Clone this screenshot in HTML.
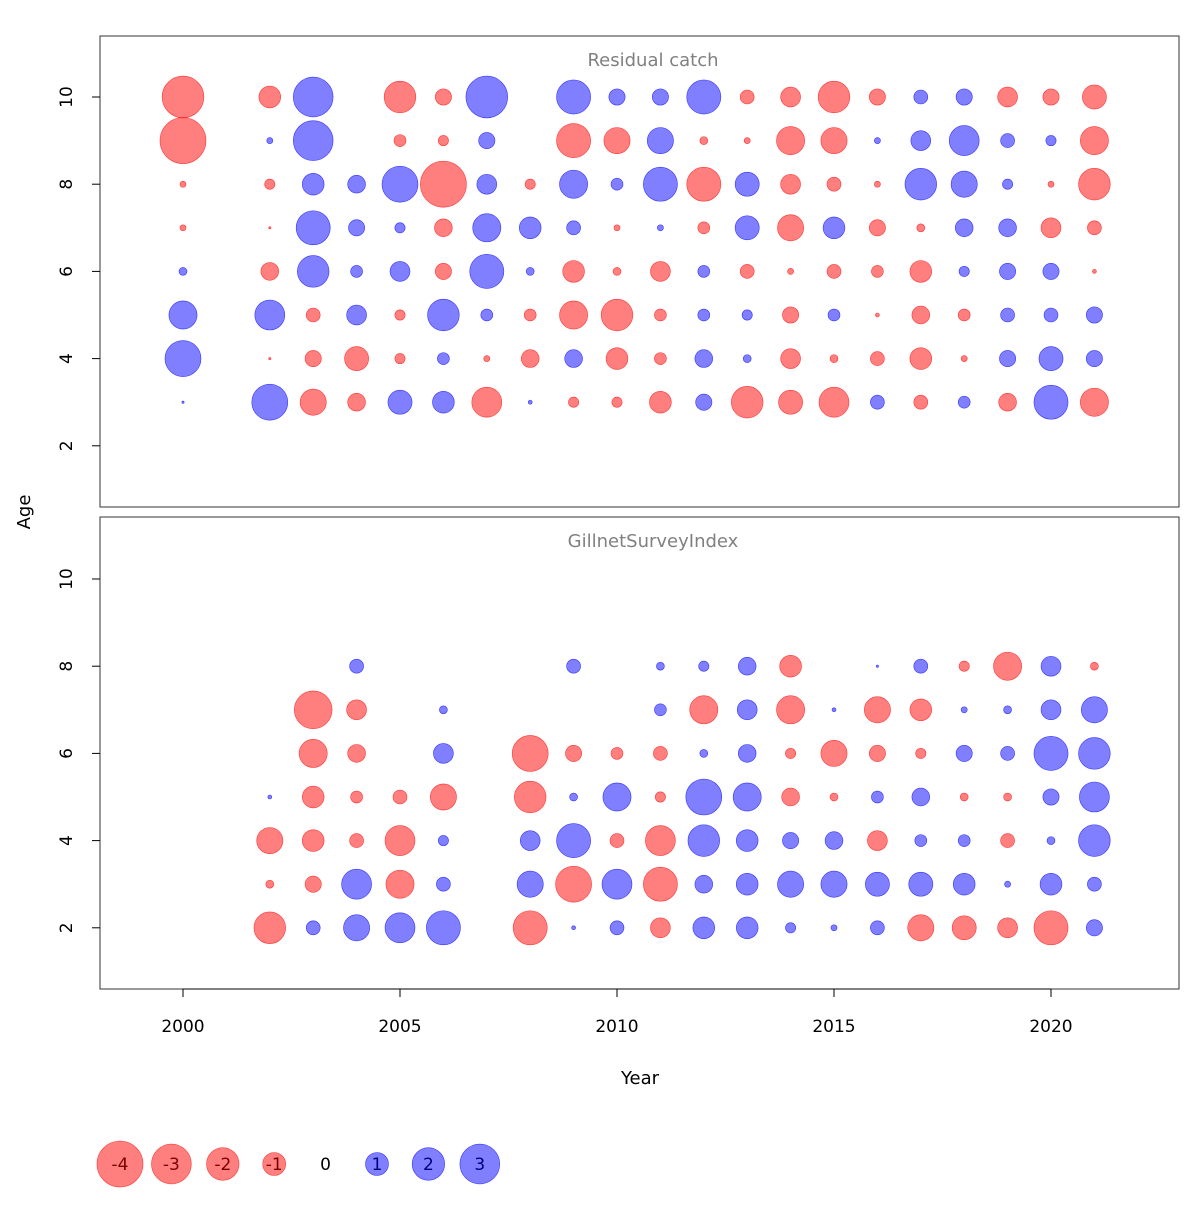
<!DOCTYPE html>
<html><head><meta charset="utf-8"><style>
body{margin:0;background:#fff}
svg text{font-family:"DejaVu Sans","Liberation Sans",sans-serif}
</style></head><body>
<svg id="chart" width="1200" height="1200">
<rect width="1200" height="1200" fill="#fff"/>
</svg>
<script>
const years = [2000,2002,2003,2004,2005,2006,2007,2008,2009,2010,2011,2012,2013,2014,2015,2016,2017,2018,2019,2020,2021];
// Residual catch, ages 3..10 per year
const topAges = [3,4,5,6,7,8,9,10];
const topValues = [
[0.01,2.45,1.5,0.12,-0.07,-0.07,-4,-3.3],
[2.45,-0.01,1.7,-0.6,-0.01,-0.2,0.07,-0.9],
[-1.3,-0.5,-0.37,1.9,2.2,0.9,3,3],
[-0.6,-1.1,0.75,0.27,0.5,0.6,null,null],
[1.1,-0.2,-0.2,0.75,0.2,2.45,-0.27,-1.9],
[0.9,0.27,1.9,-0.5,-0.6,-4,-0.2,-0.5],
[-1.7,-0.07,0.27,2.2,1.5,0.75,0.5,3.3],
[0.03,-0.6,-0.27,0.12,0.9,-0.2,null,null],
[-0.2,0.6,-1.5,-0.9,0.37,1.5,-2.2,2.2],
[-0.2,-0.9,-1.9,-0.12,-0.07,0.27,-1.3,0.5],
[-0.9,-0.27,-0.27,-0.75,0.07,2.2,1.3,0.5],
[0.5,0.6,0.27,0.27,-0.27,-2.2,-0.12,2.2],
[-1.9,0.12,0.2,-0.37,1.1,1.1,-0.07,-0.37],
[-1.1,-0.75,-0.5,-0.07,-1.3,-0.75,-1.5,-0.75],
[-1.7,-0.12,0.27,-0.37,0.9,-0.37,-1.3,-1.9],
[0.37,-0.37,-0.03,-0.27,-0.5,-0.07,0.07,-0.5],
[-0.37,-0.9,-0.6,-0.9,-0.12,1.9,0.75,0.37],
[0.27,-0.07,-0.27,0.2,0.6,1.3,1.7,0.5],
[-0.6,0.5,0.37,0.5,0.6,0.2,0.37,-0.75],
[2.2,1.1,0.37,0.5,-0.75,-0.07,0.2,-0.5],
[-1.5,0.5,0.5,-0.03,-0.37,-1.9,-1.5,-1.1]
];
// GillnetSurveyIndex, ages 2..8 per year
const botAges = [2,3,4,5,6,7,8];
const botValues = [
[null,null,null,null,null,null,null],
[-1.9,-0.12,-1.3,0.03,null,null,null],
[0.37,-0.5,-0.9,-0.9,-1.5,-2.7,null],
[1.3,1.7,-0.37,-0.27,-0.6,-0.75,0.37],
[1.7,-1.5,-1.7,-0.37,null,null,null],
[2.2,0.37,0.2,-1.3,0.75,0.12,null],
[null,null,null,null,null,null,null],
[-2.2,1.3,0.75,-1.9,-2.45,null,null],
[0.03,-2.45,2.2,0.12,-0.5,null,0.37],
[0.37,1.7,-0.37,1.5,-0.27,null,null],
[-0.75,-2.2,-1.7,-0.2,-0.37,0.27,0.12],
[0.9,0.6,1.9,2.45,0.12,-1.5,0.2],
[0.9,0.9,0.9,1.5,0.6,0.75,0.6],
[0.2,1.3,0.5,-0.6,-0.2,-1.5,-0.9],
[0.07,1.3,0.6,-0.12,-1.3,0.03,null],
[0.37,1.1,-0.75,0.27,-0.5,-1.3,0.01],
[-1.3,1.1,0.27,0.6,-0.2,-0.9,0.37],
[-1.1,0.9,0.27,-0.12,0.5,0.07,-0.2],
[-0.75,0.07,-0.37,-0.12,0.37,0.12,-1.5],
[-2.2,0.9,0.12,0.5,2.2,0.75,0.75],
[0.5,0.37,1.9,1.7,1.9,1.3,-0.12]
];
const xTicks = [2000,2005,2010,2015,2020];
const yTicks = [2,4,6,8,10];
const legendValues = [-4,-3,-2,-1,0,1,2,3];

const NS='http://www.w3.org/2000/svg';
const svg=document.getElementById('chart');
function mk(tag,attrs,parent){const e=document.createElementNS(NS,tag);for(const k in attrs)e.setAttribute(k,attrs[k]);(parent||svg).appendChild(e);return e;}
const xs=y=>183+(y-2000)*43.4;
const rad=v=>11.5*Math.sqrt(Math.abs(v));
const fillOf=v=>v<0?'rgba(255,0,0,0.5)':'rgba(0,0,255,0.5)';
const strokeOf=v=>v<0?'rgba(255,0,0,0.7)':'rgba(0,0,255,0.7)';

function panel(top,bottom,title,ages,values,name,y10){
  const ys=a=>y10+(10-a)*43.6;
  const b=mk('rect',{x:100,y:top,width:1079,height:bottom-top,fill:'none',stroke:'#333','stroke-width':1});
  
  
  const t=mk('text',{x:653,y:top+30,'text-anchor':'middle','font-size':18,fill:'#808080'});t.textContent=title;
  
  
  yTicks.forEach(v=>{
    const yy=ys(v);
    const l=mk('line',{x1:92,x2:100,y1:yy,y2:yy,stroke:'#000'});
    
    
    const tx=mk('text',{x:72,y:yy,'font-size':17,'text-anchor':'middle',transform:`rotate(-90 72 ${yy})`});tx.textContent=v;
    
    
  });
  years.forEach((yr,i)=>{
    values[i].forEach((v,j)=>{
      if(v===null||v===undefined)return;
      const c=mk('circle',{cx:xs(yr),cy:ys(ages[j]),r:Math.max(rad(v),0.6),fill:fillOf(v),stroke:strokeOf(v),'stroke-width':0.6});
      
      
    });
  });
}
panel(36,507,'Residual catch',topAges,topValues,'residual-catch-panel',97);
panel(517,989,'GillnetSurveyIndex',botAges,botValues,'gillnet-survey-panel',579);

const ax=mk('line',{x1:xs(2000),x2:xs(2020),y1:989,y2:989,stroke:'#000'});


xTicks.forEach(v=>{
  const l=mk('line',{x1:xs(v),x2:xs(v),y1:989,y2:997,stroke:'#000'});
  
  
  const t=mk('text',{x:xs(v),y:1032,'font-size':17,'text-anchor':'middle'});t.textContent=v;
  
  
});
const xl=mk('text',{x:640,y:1084,'font-size':18,'text-anchor':'middle'});xl.textContent='Year';


const yl=mk('text',{x:30,y:512,'font-size':18,'text-anchor':'middle',transform:'rotate(-90 30 512)'});yl.textContent='Age';



legendValues.forEach((v,i)=>{
  const cx=120+i*51.4, cy=1164;
  if(v!==0){
    const c=mk('circle',{cx:cx,cy:cy,r:rad(v),fill:fillOf(v),stroke:strokeOf(v),'stroke-width':0.6});
    
    
  }
  const t=mk('text',{x:cx,y:cy+6,'font-size':17,'text-anchor':'middle',fill:v<0?'#7a0000':(v>0?'#00007a':'#000')});t.textContent=v;
  
  
});
</script>
</body></html>
